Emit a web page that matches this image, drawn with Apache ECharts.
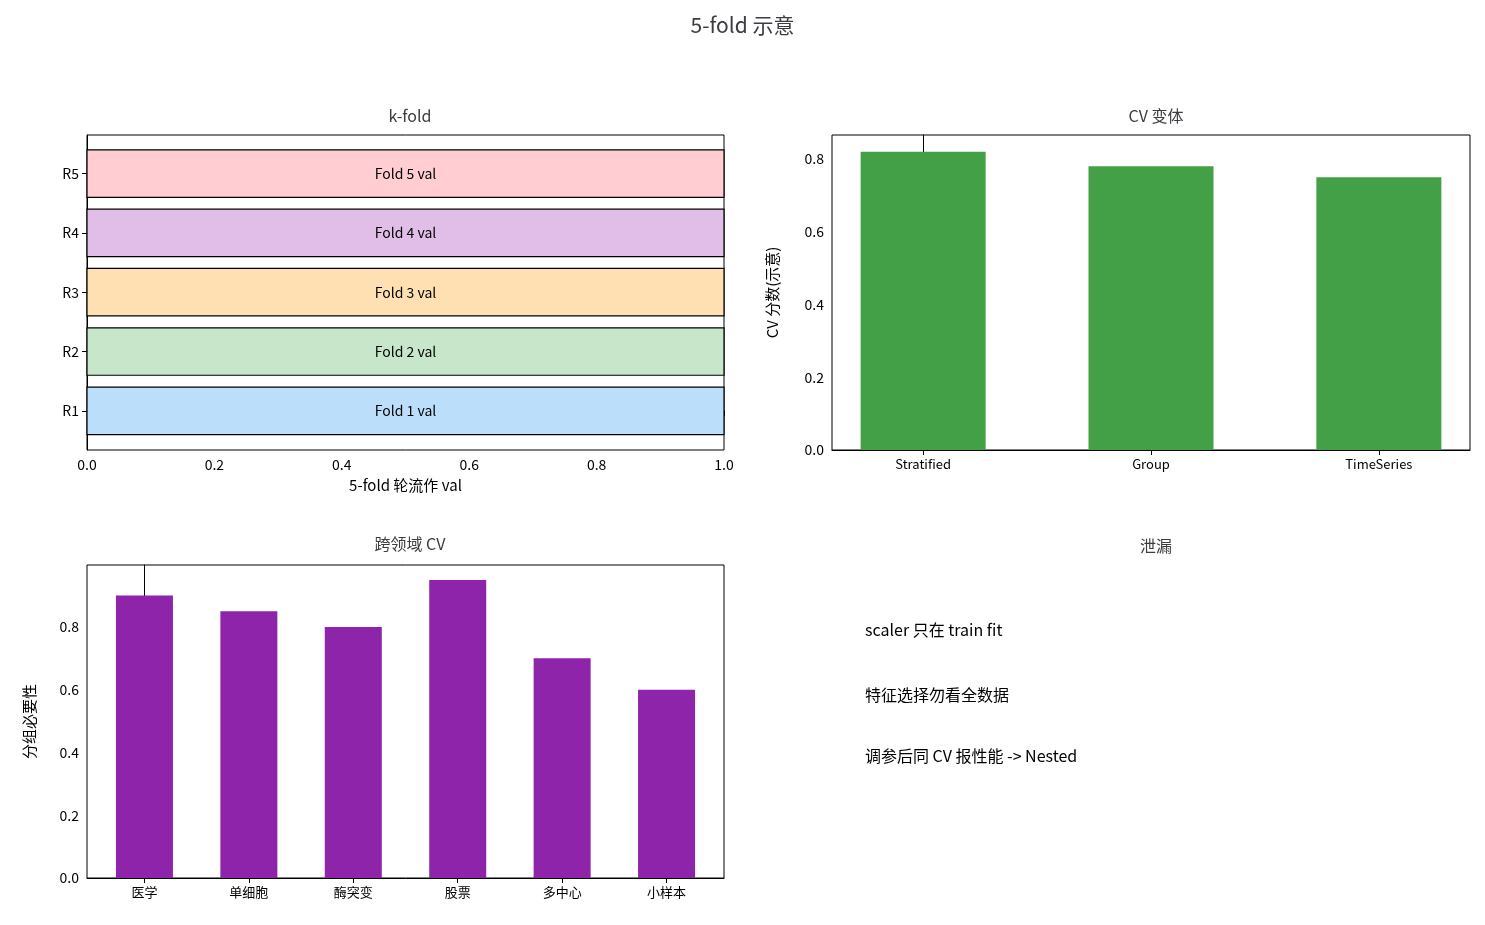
<!DOCTYPE html>
<html><head><meta charset="utf-8">
<script src="https://cdn.jsdelivr.net/npm/echarts@6/dist/echarts.min.js"></script>
<style>html,body{margin:0;padding:0;background:#fff}#c{width:1485px;height:925px}</style>
</head><body><div id="c"></div>
<script>
// data
var foldRows = ['R1', 'R2', 'R3', 'R4', 'R5'];
var foldLabels = ['Fold 1 val', 'Fold 2 val', 'Fold 3 val', 'Fold 4 val', 'Fold 5 val'];
var foldColors = ['#bbdefb', '#c8e6c9', '#ffe0b2', '#e1bee7', '#ffcdd2'];
var cvNames = ['Stratified', 'Group', 'TimeSeries'];
var cvScores = [0.82, 0.78, 0.75];
var domains = ['医学', '单细胞', '酶突变', '股票', '多中心', '小样本'];
var domainNeed = [0.9, 0.85, 0.8, 0.95, 0.7, 0.6];
var leakNotes = ['scaler 只在 train fit', '特征选择勿看全数据', '调参后同 CV 报性能 -> Nested'];

var FONT = 'Noto Sans CJK SC';
var txt = {color: '#000', fontFamily: FONT, fontSize: 14};
var line = {show: true, lineStyle: {color: '#000', width: 1}};
var tick = {show: true, length: 5, lineStyle: {color: '#000'}};

function idx(arr) { return arr.map(function (_, i) { return i; }); }

var option = {
  animation: false,
  textStyle: {fontFamily: FONT},
  title: [
    {text: '5-fold 示意', left: 'center', top: 10, textStyle: {fontFamily: FONT, fontSize: 21, fontWeight: 'normal'}},
    {text: 'k-fold', left: 405, top: 103, textAlign: 'center', textStyle: {fontFamily: FONT, fontSize: 16, fontWeight: 'normal'}},
    {text: 'CV 变体', left: 1151, top: 103, textAlign: 'center', textStyle: {fontFamily: FONT, fontSize: 16, fontWeight: 'normal'}},
    {text: '跨领域 CV', left: 405, top: 531, textAlign: 'center', textStyle: {fontFamily: FONT, fontSize: 16, fontWeight: 'normal'}},
    {text: '泄漏', left: 1151, top: 533, textAlign: 'center', textStyle: {fontFamily: FONT, fontSize: 16, fontWeight: 'normal'}}
  ],
  grid: [
    {left: 87, top: 135, width: 637, height: 315, show: true, borderColor: '#000', borderWidth: 1},
    {left: 832, top: 135, width: 638, height: 315, show: true, borderColor: '#000', borderWidth: 1},
    {left: 87, top: 565, width: 637, height: 313, show: true, borderColor: '#000', borderWidth: 1}
  ],
  xAxis: [
    {type: 'value', gridIndex: 0, min: 0, max: 1, interval: 0.2, axisLine: line, axisTick: tick, splitLine: {show: false},
      axisLabel: Object.assign({formatter: function (v) { return v.toFixed(1); }}, txt),
      name: '5-fold 轮流作 val', nameLocation: 'middle', nameGap: 28, nameTextStyle: Object.assign({}, txt, {fontSize: 15})},
    {type: 'value', gridIndex: 1, min: -0.4, max: 2.4, axisLine: line, splitLine: {show: false},
      axisTick: Object.assign({customValues: idx(cvNames)}, tick),
      axisLabel: Object.assign({customValues: idx(cvNames), formatter: function (v) { return cvNames[Math.round(v)]; }}, txt, {fontSize: 13})},
    {type: 'value', gridIndex: 2, min: -0.55, max: 5.55, axisLine: line, splitLine: {show: false},
      axisTick: Object.assign({customValues: idx(domains)}, tick),
      axisLabel: Object.assign({customValues: idx(domains), formatter: function (v) { return domains[Math.round(v)]; }}, txt, {fontSize: 13})}
  ],
  yAxis: [
    {type: 'value', gridIndex: 0, min: -0.66, max: 4.65, axisLine: line, splitLine: {show: false},
      axisTick: Object.assign({customValues: idx(foldRows)}, tick),
      axisLabel: Object.assign({customValues: idx(foldRows), formatter: function (v) { return foldRows[Math.round(v)]; }}, txt)},
    {type: 'value', gridIndex: 1, min: 0, max: 0.866, axisLine: line, splitLine: {show: false},
      axisTick: Object.assign({customValues: [0, 0.2, 0.4, 0.6, 0.8]}, tick),
      axisLabel: Object.assign({customValues: [0, 0.2, 0.4, 0.6, 0.8], formatter: function (v) { return v.toFixed(1); }}, txt),
      name: 'CV 分数(示意)', nameLocation: 'middle', nameGap: 52, nameTextStyle: Object.assign({}, txt, {fontSize: 15})},
    {type: 'value', gridIndex: 2, min: 0, max: 0.9975, axisLine: line, splitLine: {show: false},
      axisTick: Object.assign({customValues: [0, 0.2, 0.4, 0.6, 0.8]}, tick),
      axisLabel: Object.assign({customValues: [0, 0.2, 0.4, 0.6, 0.8], formatter: function (v) { return v.toFixed(1); }}, txt),
      name: '分组必要性', nameLocation: 'middle', nameGap: 50, nameTextStyle: Object.assign({}, txt, {fontSize: 15})}
  ],
  series: [
    {type: 'custom', xAxisIndex: 0, yAxisIndex: 0,
      data: foldRows.map(function (_, i) { return [i, 1]; }),
      renderItem: function (params, api) {
        var i = api.value(0);
        var p0 = api.coord([0, i + 0.4]);
        var p1 = api.coord([api.value(1), i - 0.4]);
        return {type: 'group', children: [
          {type: 'rect', shape: {x: p0[0], y: p0[1], width: p1[0] - p0[0], height: p1[1] - p0[1]},
            style: {fill: foldColors[i], stroke: '#000', lineWidth: 1.2}},
          {type: 'text', style: {x: (p0[0] + p1[0]) / 2, y: (p0[1] + p1[1]) / 2, text: foldLabels[i],
            align: 'center', verticalAlign: 'middle', fontFamily: FONT, fontSize: 14, fill: '#000'}}
        ]};
      }},
    {type: 'bar', xAxisIndex: 1, yAxisIndex: 1, barWidth: 125, itemStyle: {color: '#43a047'},
      data: cvScores.map(function (v, i) { return [i, v]; })},
    {type: 'bar', xAxisIndex: 2, yAxisIndex: 2, barWidth: 57, itemStyle: {color: '#8e24aa'},
      data: domainNeed.map(function (v, i) { return [i, v]; })}
  ],
  graphic: leakNotes.map(function (t, i) {
    return {type: 'text', left: 865, top: [622, 687, 748][i],
      style: {text: t, fontFamily: FONT, fontSize: 16, fill: '#000'}};
  })
};

echarts.init(document.getElementById('c')).setOption(option);
</script>
</body></html>
